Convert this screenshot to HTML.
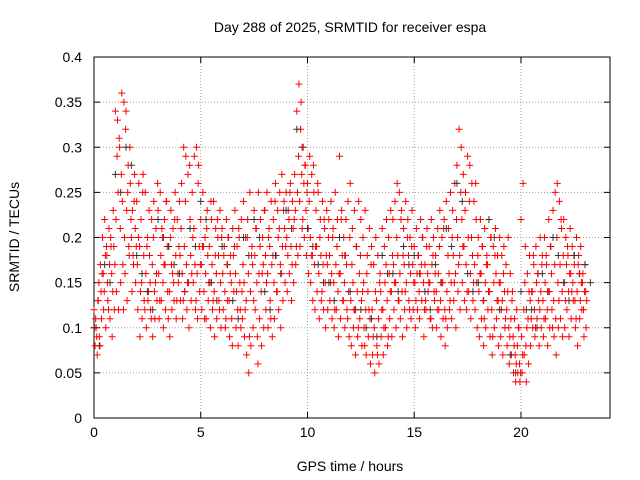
<!DOCTYPE html>
<html><head><meta charset="utf-8"><style>
body{margin:0;background:#fff;}
svg{display:block;font-family:"Liberation Sans",sans-serif;}
</style></head><body>
<svg id="chart" width="640" height="480">
<rect width="640" height="480" fill="#fff"/>
<g id="grid"></g>
<g id="axes"></g>
<g id="marks"></g>
<text x="350" y="32" text-anchor="middle" font-size="14">Day 288 of 2025, SRMTID for receiver espa</text>
<text x="350" y="471" text-anchor="middle" font-size="14">GPS time / hours</text>
<text transform="translate(19,237) rotate(-90)" text-anchor="middle" font-size="14">SRMTID / TECUs</text>
</svg>
<script>
const xTicks=[0,5,10,15,20];
const yTicks=[0,0.05,0.1,0.15,0.2,0.25,0.3,0.35,0.4];
const yTickLabels=["0","0.05","0.1","0.15","0.2","0.25","0.3","0.35","0.4"];
const hours=[0,0.1,0.2,0.3,0.4,0.5,0.6,0.7,0.8,0.9,1,1.1,1.2,1.3,1.4,1.5,1.6,1.7,1.8,1.9,2,2.1,2.2,2.3,2.4,2.5,2.6,2.7,2.8,2.9,3,3.1,3.2,3.3,3.4,3.5,3.6,3.7,3.8,3.9,4,4.1,4.2,4.3,4.4,4.5,4.6,4.7,4.8,4.9,5,5.1,5.2,5.3,5.4,5.5,5.6,5.7,5.8,5.9,6,6.1,6.2,6.3,6.4,6.5,6.6,6.7,6.8,6.9,7,7.1,7.2,7.3,7.4,7.5,7.6,7.7,7.8,7.9,8,8.1,8.2,8.3,8.4,8.5,8.6,8.7,8.8,8.9,9,9.1,9.2,9.3,9.4,9.5,9.6,9.7,9.8,9.9,10,10.1,10.2,10.3,10.4,10.5,10.6,10.7,10.8,10.9,11,11.1,11.2,11.3,11.4,11.5,11.6,11.7,11.8,11.9,12,12.1,12.2,12.3,12.4,12.5,12.6,12.7,12.8,12.9,13,13.1,13.2,13.3,13.4,13.5,13.6,13.7,13.8,13.9,14,14.1,14.2,14.3,14.4,14.5,14.6,14.7,14.8,14.9,15,15.1,15.2,15.3,15.4,15.5,15.6,15.7,15.8,15.9,16,16.1,16.2,16.3,16.4,16.5,16.6,16.7,16.8,16.9,17,17.1,17.2,17.3,17.4,17.5,17.6,17.7,17.8,17.9,18,18.1,18.2,18.3,18.4,18.5,18.6,18.7,18.8,18.9,19,19.1,19.2,19.3,19.4,19.5,19.6,19.7,19.8,19.9,20,20.1,20.2,20.3,20.4,20.5,20.6,20.7,20.8,20.9,21,21.1,21.2,21.3,21.4,21.5,21.6,21.7,21.8,21.9,22,22.1,22.2,22.3,22.4,22.5,22.6,22.7,22.8,22.9,23];
const valsUpper=[.12,.10,.13,.17,.20,.22,.18,.21,.19,.23,.34,.33,.30,.36,.35,.34,.28,.26,.23,.27,.24,.26,.22,.27,.25,.20,.18,.22,.24,.21,.23,.25,.20,.22,.24,.19,.23,.21,.25,.22,.24,.26,.30,.29,.27,.22,.25,.29,.30,.28,.22,.25,.20,.23,.19,.22,.24,.21,.20,.23,.21,.19,.22,.20,.18,.21,.23,.19,.20,.22,.24,.20,.22,.25,.19,.23,.21,.25,.22,.20,.23,.25,.21,.24,.22,.26,.23,.25,.27,.24,.25,.23,.26,.24,.27,.34,.37,.35,.30,.28,.26,.29,.27,.25,.23,.25,.22,.24,.21,.23,.22,.24,.21,.25,.22,.29,.23,.20,.22,.24,.26,.21,.23,.19,.24,.22,.20,.23,.18,.21,.19,.17,.20,.18,.16,.21,.19,.22,.20,.23,.22,.24,.26,.25,.23,.21,.24,.22,.20,.23,.19,.21,.18,.22,.20,.17,.21,.19,.22,.20,.18,.21,.23,.20,.22,.24,.21,.25,.23,.26,.28,.32,.30,.27,.25,.29,.28,.26,.24,.22,.20,.22,.19,.21,.18,.22,.20,.19,.21,.18,.20,.18,.19,.17,.20,.16,.14,.11,.12,.10,.22,.26,.19,.16,.18,.14,.17,.19,.16,.20,.18,.20,.17,.22,.19,.23,.25,.26,.24,.21,.22,.20,.18,.21,.19,.17,.20,.18,.19,.16,.17];
const valsLower=[.08,.07,.09,.11,.12,.10,.13,.11,.09,.12,.14,.12,.15,.17,.16,.13,.18,.20,.17,.15,.12,.09,.11,.13,.10,.14,.12,.09,.11,.13,.11,.13,.10,.12,.14,.09,.12,.13,.11,.15,.13,.11,.14,.12,.10,.13,.15,.12,.11,.14,.12,.14,.11,.13,.10,.12,.09,.11,.13,.10,.12,.10,.13,.09,.11,.14,.10,.08,.12,.11,.09,.07,.05,.08,.10,.12,.09,.11,.08,.10,.12,.10,.13,.09,.11,.14,.12,.10,.13,.15,.14,.16,.13,.15,.17,.18,.19,.21,.20,.18,.16,.15,.13,.12,.14,.11,.13,.12,.10,.12,.13,.11,.10,.12,.09,.11,.13,.10,.12,.09,.08,.10,.07,.09,.11,.08,.10,.07,.09,.06,.07,.05,.08,.06,.09,.07,.10,.08,.11,.09,.12,.10,.13,.11,.09,.12,.10,.13,.11,.12,.10,.12,.11,.13,.09,.12,.14,.11,.10,.13,.10,.12,.09,.11,.08,.10,.12,.11,.13,.10,.14,.12,.15,.13,.12,.14,.11,.13,.12,.10,.09,.11,.08,.10,.12,.09,.07,.10,.11,.08,.09,.07,.10,.08,.06,.07,.05,.04,.05,.04,.05,.07,.04,.06,.08,.10,.09,.11,.08,.10,.09,.11,.08,.10,.12,.09,.07,.10,.11,.09,.10,.12,.09,.11,.13,.10,.08,.11,.12,.09,.10];
const valsMid=[.10,.09,.15,.14,.16,.18,.15,.17,.16,.19,.22,.25,.21,.24,.20,.23,.19,.22,.18,.21,.17,.19,.15,.18,.16,.13,.15,.17,.14,.16,.16,.18,.15,.17,.19,.14,.17,.15,.18,.16,.18,.16,.19,.17,.15,.18,.20,.17,.16,.19,.17,.19,.16,.18,.15,.17,.14,.16,.18,.15,.16,.14,.17,.13,.15,.18,.16,.12,.15,.14,.15,.13,.16,.14,.17,.18,.15,.16,.14,.17,.18,.16,.19,.17,.15,.18,.20,.17,.19,.21,.20,.22,.19,.21,.23,.25,.24,.27,.26,.23,.21,.20,.18,.17,.19,.16,.18,.17,.15,.17,.18,.16,.15,.17,.14,.16,.18,.15,.17,.14,.13,.15,.12,.14,.16,.13,.15,.12,.14,.11,.12,.10,.13,.11,.14,.12,.15,.13,.16,.14,.17,.15,.18,.16,.14,.17,.15,.18,.16,.17,.15,.16,.14,.17,.15,.13,.16,.15,.17,.14,.14,.16,.13,.15,.12,.14,.16,.15,.18,.16,.20,.18,.22,.19,.17,.20,.16,.18,.17,.15,.14,.16,.13,.15,.17,.14,.12,.15,.16,.13,.15,.13,.14,.12,.10,.11,.09,.07,.08,.06,.09,.12,.08,.11,.13,.14,.12,.15,.13,.14,.13,.15,.12,.14,.16,.13,.11,.15,.17,.14,.15,.17,.14,.16,.15,.13,.14,.16,.15,.12,.14];
const valsExtra=[.11,.13,.08,.16,.14,.19,.12,.20,.14,.17,.29,.31,.27,.12,.32,.25,.30,.14,.24,.19,.20,.14,.25,.12,.19,.23,.11,.20,.15,.26,.13,.21,.17,.24,.11,.20,.16,.22,.13,.19,.21,.13,.24,.15,.28,.16,.21,.13,.26,.17,.19,.11,.21,.15,.24,.13,.18,.22,.12,.20,.18,.11,.20,.16,.08,.19,.14,.21,.10,.17,.12,.20,.09,.18,.13,.21,.06,.19,.16,.23,.15,.20,.11,.18,.24,.14,.21,.16,.23,.19,.18,.25,.17,.22,.19,.29,.32,.22,.28,.25,.24,.18,.28,.19,.26,.20,.14,.22,.18,.20,.15,.20,.12,.19,.16,.22,.13,.18,.11,.20,.17,.12,.19,.10,.18,.14,.08,.16,.12,.17,.09,.14,.07,.15,.12,.10,.17,.09,.14,.18,.15,.20,.13,.22,.18,.14,.20,.12,.19,.15,.13,.18,.16,.20,.12,.19,.15,.11,.18,.16,.12,.19,.15,.21,.11,.18,.13,.20,.15,.22,.17,.25,.19,.23,.14,.24,.20,.15,.26,.18,.16,.19,.11,.17,.14,.20,.09,.18,.13,.15,.12,.16,.11,.14,.09,.13,.08,.06,.10,.05,.07,.15,.10,.14,.11,.18,.10,.16,.12,.17,.11,.18,.14,.19,.10,.17,.20,.13,.22,.18,.13,.19,.16,.14,.18,.11,.17,.13,.15,.14,.13];
const blackHours=[0,0.5,1,1.5,2,2.5,3,3.5,4,4.5,5,5.5,6,6.5,7,7.5,8,8.5,9,9.5,10,10.5,11,11.5,12,12.5,13,13.5,14,14.5,15,15.5,16,16.5,17,17.5,18,18.5,19,19.5,20,20.5,21,21.5,22,22.5,23];
const blackVals=[.08,.15,.25,.28,.16,.12,.20,.17,.14,.19,.22,.13,.17,.11,.18,.20,.12,.16,.21,.30,.19,.15,.13,.18,.12,.10,.09,.16,.14,.17,.16,.12,.15,.19,.24,.14,.13,.20,.10,.05,.12,.10,.14,.18,.13,.16,.15];

const NS="http://www.w3.org/2000/svg";
const L=94,R=610,T=57,B=418,XMAX=24.17,YMAX=0.4;
const xs=h=>L+h/XMAX*(R-L);
const ys=v=>B-v/YMAX*(B-T);
function mk(tag,attrs,parent){const e=document.createElementNS(NS,tag);for(const k in attrs)e.setAttribute(k,attrs[k]);parent.appendChild(e);return e;}
const grid=document.getElementById('grid'),axes=document.getElementById('axes'),marks=document.getElementById('marks');
xTicks.forEach(t=>{
  const x=xs(t);
  if(t>0){const g=mk('line',{x1:x,x2:x,y1:T,y2:B,stroke:'#a0a0a0','stroke-dasharray':'1,2'},grid);
  
  }
  mk('line',{x1:x,x2:x,y1:B,y2:B-6,stroke:'#000'},axes);
  mk('line',{x1:x,x2:x,y1:T,y2:T+6,stroke:'#000'},axes);
  const lb=mk('text',{x:x,y:B+19,'text-anchor':'middle','font-size':'14'},axes);
  lb.textContent=t;
  
  
});
yTicks.forEach((t,i)=>{
  const y=ys(t);
  if(i>0&&i<yTicks.length-1){const g=mk('line',{x1:L,x2:R,y1:y,y2:y,stroke:'#a0a0a0','stroke-dasharray':'1,2'},grid);
  
  }
  mk('line',{x1:L,x2:L+6,y1:y,y2:y,stroke:'#000'},axes);
  mk('line',{x1:R,x2:R-6,y1:y,y2:y,stroke:'#000'},axes);
  const lb=mk('text',{x:L-12,y:y+5,'text-anchor':'end','font-size':'14'},axes);
  lb.textContent=yTickLabels[i];
  
  
});
const frame=mk('rect',{x:L,y:T,width:R-L,height:B-T,fill:'none',stroke:'#000'},axes);


function plus(h,v,color,name){
  const x=xs(h),y=ys(v);
  const p=mk('path',{d:`M${x-3.5},${y}H${x+3.5}M${x},${y-3.5}V${y+3.5}`,stroke:color,'stroke-width':'1',fill:'none'},marks);
  
  
}
blackHours.forEach((h,i)=>plus(h+0.25,blackVals[i],'#333','point-black'));
hours.forEach((h,i)=>{
  plus(h,valsUpper[i],'#ff0000','point-red');
  plus(h+0.05,valsLower[i],'#ff0000','point-red');
  plus(h+0.03,valsMid[i],'#ff0000','point-red');
  plus(h+0.08,valsExtra[i],'#ff0000','point-red');
});
blackHours.forEach((h,i)=>plus(h,blackVals[i]+0.02,'#333','point-black'));
</script>
</body></html>
